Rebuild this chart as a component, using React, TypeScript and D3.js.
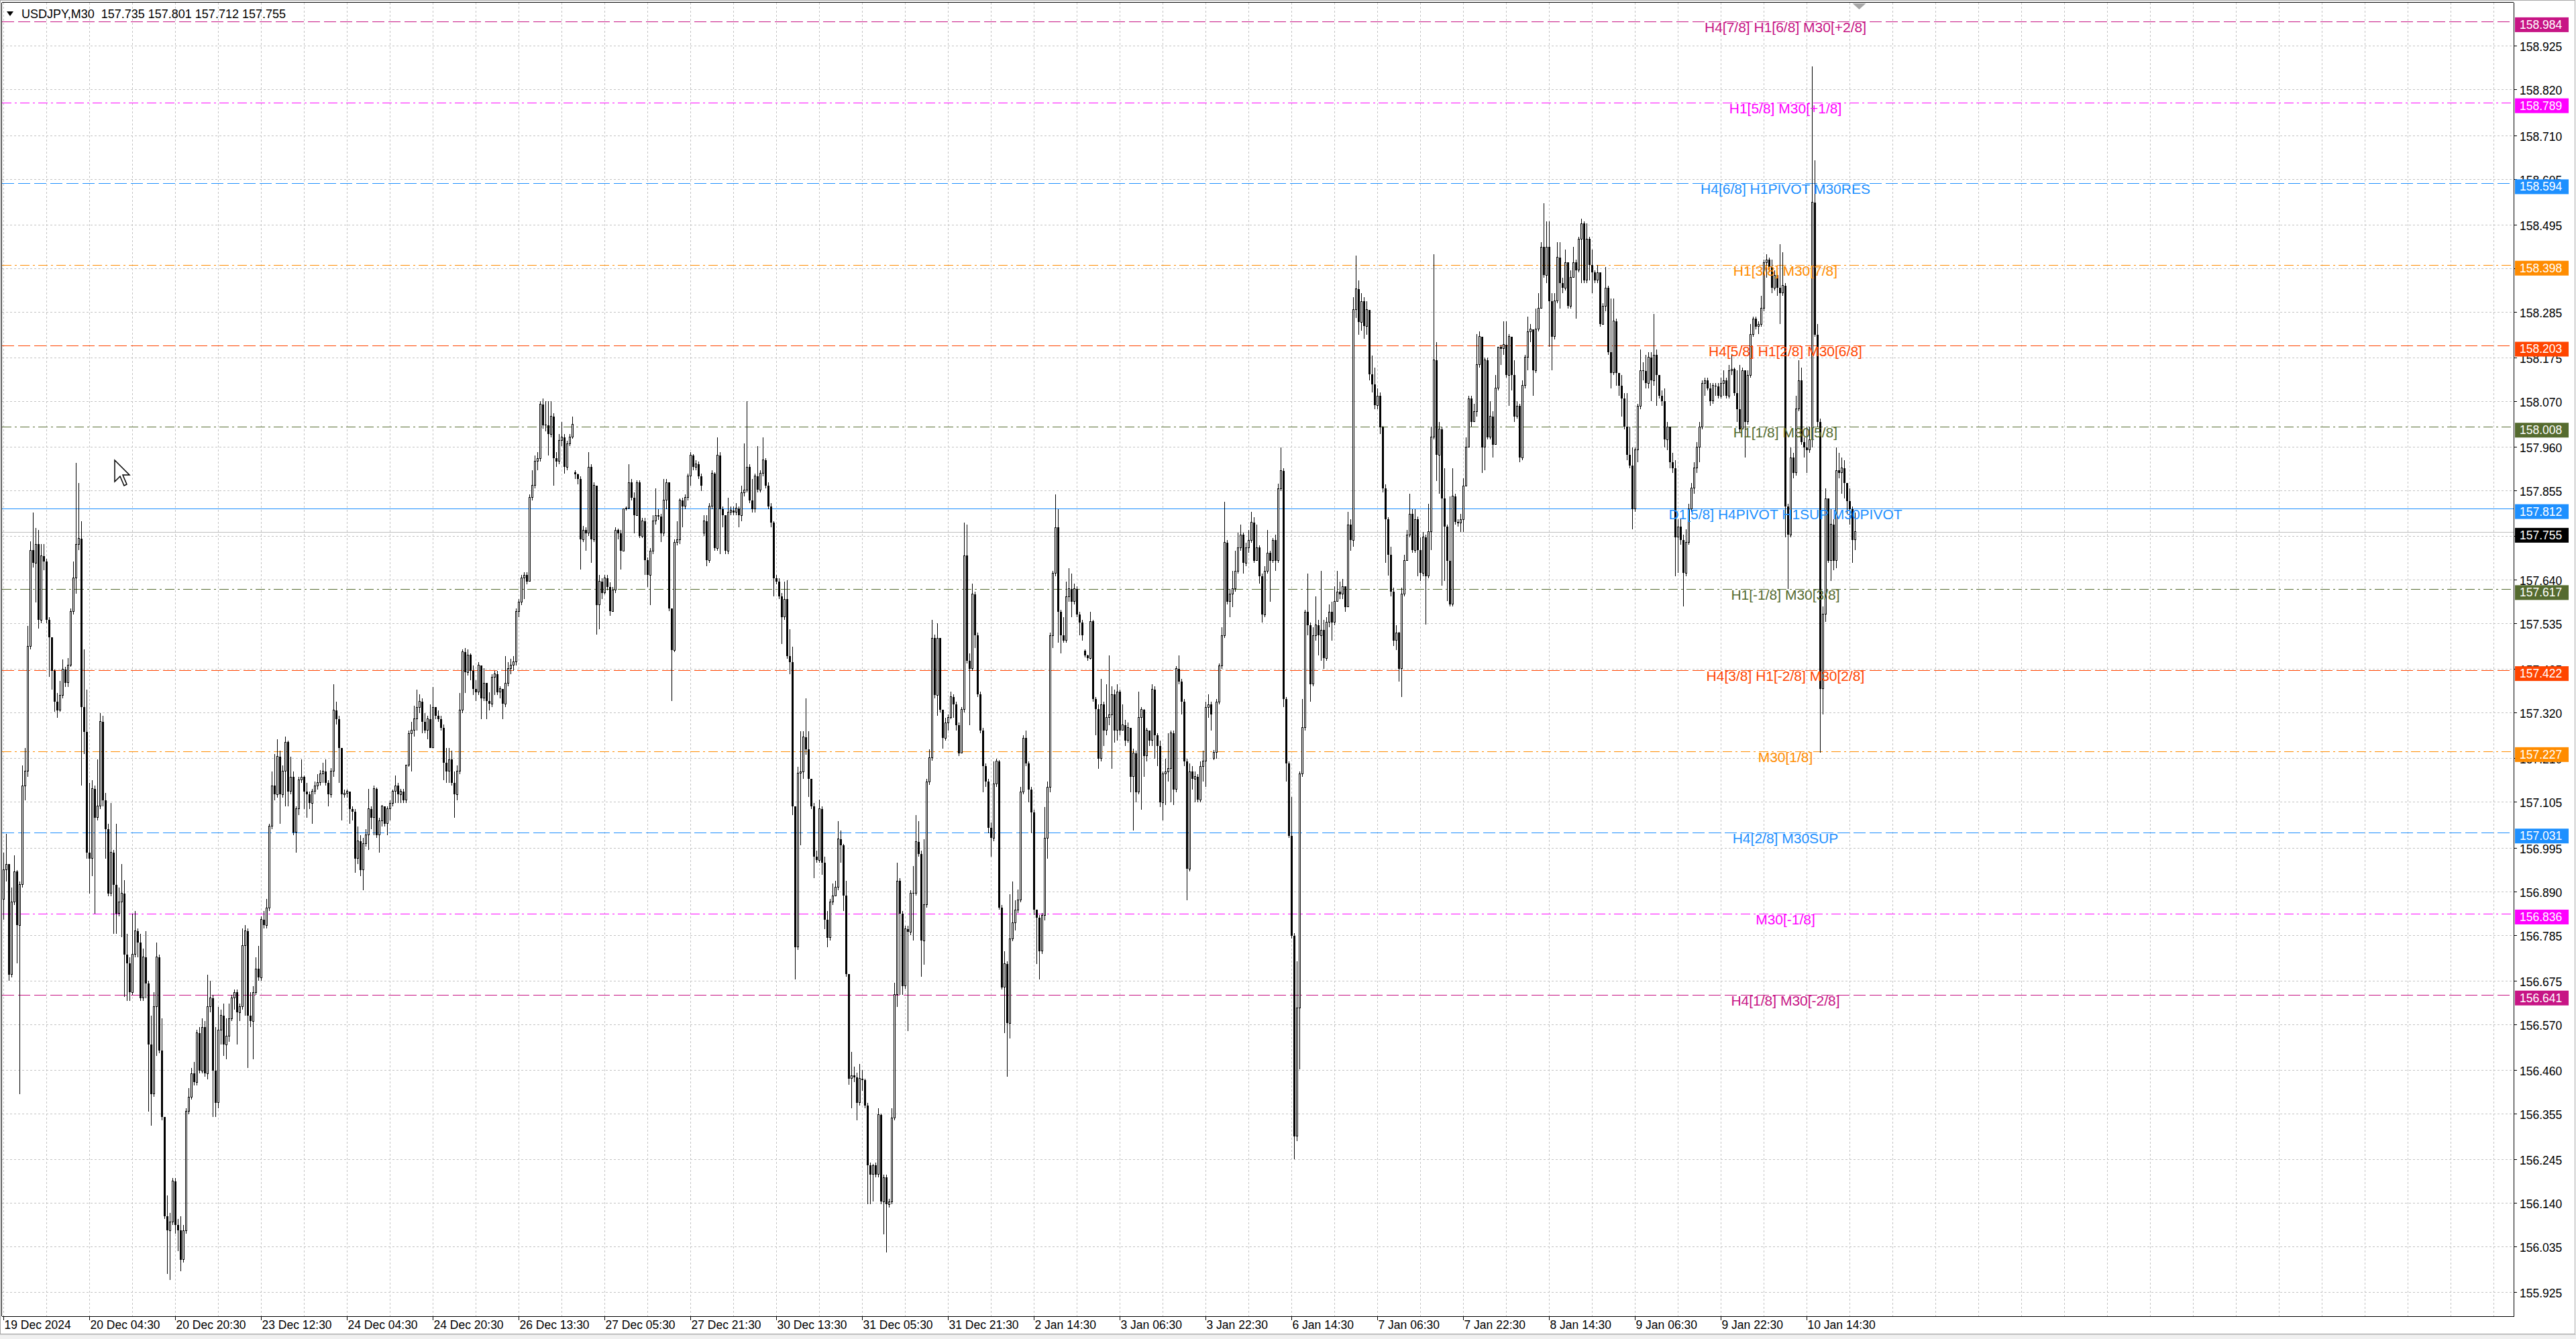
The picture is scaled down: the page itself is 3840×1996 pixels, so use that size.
import { useMemo } from "react";
import * as d3 from "d3";

// USDJPY M30 bars, prices kept in 0.001 steps above 155.000
const PRICE_BASE = 155;

const closes = [
  1941, 1955, 1689, 1864, 1937, 1808, 1906, 2144, 2179, 2480,
  2711, 2680, 2725, 2543, 2697, 2683, 2543, 2501, 2420, 2347,
  2326, 2361, 2424, 2392, 2435, 2564, 2645, 2725, 2739, 2333,
  2274, 1983, 1969, 2137, 2067, 2095, 2298, 2109, 2039, 1885,
  1983, 1906, 1836, 1864, 1885, 1738, 1717, 1647, 1738, 1794,
  1766, 1633, 1731, 1668, 1521, 1402, 1612, 1731, 1507, 1346,
  1108, 1073, 1094, 1192, 1087, 1073, 1003, 1073, 1360, 1395,
  1451, 1430, 1549, 1458, 1563, 1451, 1612, 1633, 1458, 1381,
  1556, 1591, 1521, 1542, 1584, 1633, 1647, 1598, 1612, 1759,
  1794, 1591, 1577, 1647, 1703, 1682, 1822, 1808, 1850, 2046,
  2144, 2123, 2214, 2123, 2179, 2249, 2130, 2165, 2032, 2088,
  2158, 2165, 2130, 2123, 2102, 2130, 2144, 2151, 2172, 2179,
  2151, 2123, 2179, 2326, 2305, 2235, 2123, 2126, 2130, 2088,
  2081, 1969, 2011, 1941, 2004, 2025, 2088, 2067, 2137, 2025,
  2060, 2095, 2053, 2088, 2102, 2130, 2144, 2123, 2130, 2109,
  2193, 2270, 2277, 2305, 2333, 2347, 2298, 2277, 2305, 2235,
  2333, 2312, 2305, 2284, 2200, 2179, 2207, 2151, 2123, 2179,
  2326, 2466, 2417, 2459, 2420, 2377, 2369, 2434, 2355, 2391,
  2348, 2341, 2405, 2413, 2369, 2377, 2341, 2391, 2427, 2434,
  2442, 2564, 2586, 2644, 2651, 2636, 2838, 2867, 2925, 2932,
  3062, 3012, 3012, 2990, 3033, 2932, 2925, 2975, 2983, 2911,
  2968, 2983, 3014, 2893, 2882, 2737, 2759, 2752, 2911, 2737,
  2867, 2579, 2636, 2608, 2644, 2622, 2564, 2615, 2759, 2752,
  2709, 2810, 2812, 2874, 2838, 2795, 2874, 2745, 2781, 2687,
  2651, 2709, 2781, 2795, 2792, 2752, 2831, 2874, 2571, 2470,
  2730, 2737, 2831, 2817, 2838, 2889, 2939, 2911, 2918, 2889,
  2867, 2781, 2687, 2817, 2896, 2716, 2939, 2810, 2795, 2709,
  2802, 2807, 2802, 2812, 2795, 2850, 2856, 2911, 2831, 2810,
  2889, 2856, 2896, 2928, 2867, 2817, 2778, 2644, 2636, 2600,
  2550, 2593, 2456, 2442, 2095, 1756, 2175, 2178, 2261, 2232,
  2160, 2095, 1973, 1965, 2088, 1958, 1821, 1778, 1864, 1879,
  1900, 2016, 2001, 1879, 1691, 1439, 1446, 1442, 1381, 1439,
  1436, 1374, 1230, 1208, 1230, 1208, 1352, 1143, 1201, 1136,
  1143, 1345, 1641, 1915, 1836, 1662, 1799, 1792, 1886, 1886,
  2009, 1980, 1771, 1857, 2153, 2211, 2499, 2362, 2499, 2327,
  2259, 2296, 2308, 2358, 2339, 2290, 2222, 2327, 2698, 2444,
  2426, 2605, 2506, 2364, 2277, 2191, 2154, 2042, 2018, 2148,
  2203, 1851, 1659, 1715, 1572, 1776, 1814, 1845, 1869, 2129,
  2259, 2197, 2135, 2080, 1845, 1826, 1746, 1832, 2018, 2141,
  2506, 2655, 2766, 2562, 2506, 2494, 2599, 2618, 2587, 2618,
  2556, 2537, 2506, 2457, 2451, 2540, 2352, 2329, 2209, 2339,
  2277, 2308, 2315, 2364, 2277, 2370, 2277, 2290, 2253, 2284,
  2166, 2222, 2129, 2308, 2327, 2216, 2277, 2253, 2376, 2265,
  2240, 2104, 2172, 2178, 2185, 2271, 2135, 2426, 2395, 2346,
  2203, 1944, 2178, 2160, 2166, 2110, 2191, 2203, 2333, 2339,
  2315, 2224, 2346, 2432, 2506, 2729, 2587, 2605, 2618, 2661,
  2717, 2748, 2680, 2717, 2735, 2778, 2686, 2717, 2649, 2556,
  2661, 2704, 2686, 2735, 2686, 2859, 2902, 2352, 2197, 2024,
  1783, 1300, 1609, 2172, 2284, 2562, 2531, 2389, 2506, 2531,
  2506, 2519, 2451, 2537, 2562, 2537, 2587, 2611, 2605, 2624,
  2574, 2772, 2735, 3290, 3340, 3260, 3310, 3250, 3290, 3135,
  3110, 3060, 3082, 3007, 2859, 2785, 2700, 2611, 2494, 2512,
  2426, 2605, 2686, 2748, 2798, 2711, 2785, 2711, 2656, 2742,
  2649, 2755, 2983, 3169, 2940, 3002, 2835, 2767, 2686, 2581,
  2841, 2779, 2776, 2785, 2866, 2959, 3076, 3020, 3045, 3157,
  3225, 2959, 3169, 2983, 3033, 2965, 3101, 3200, 3196, 3206,
  3132, 3225, 3132, 3033, 3058, 2934, 3107, 3175, 3237, 3243,
  3144, 3243, 3293, 3441, 3373, 3441, 3311, 3225, 3311, 3416,
  3354, 3342, 3404, 3299, 3367, 3404, 3385, 3460, 3497, 3361,
  3460, 3398, 3379, 3361, 3379, 3255, 3299, 3342, 3187, 3138,
  3262, 3138, 3107, 3076, 3008, 2940, 2915, 2810, 2952, 3058,
  3144, 3142, 3113, 3175, 3119, 3181, 3132, 3082, 3070, 2977,
  3008, 2922, 2909, 2742, 2767, 2736, 2656, 2730, 2810, 2860,
  2909, 2959, 3008, 3113, 3119, 3101, 3070, 3107, 3105, 3082,
  3113, 3119, 3082, 3144, 3147, 3089, 3051, 3002, 3144, 3020,
  3132, 3231, 3268, 3249, 3255, 3293, 3404, 3410, 3392, 3342,
  3373, 3342, 3330, 3348, 2816, 2748, 2934, 2897, 3051, 3119,
  2971, 2959, 2952, 2977, 3548, 3230, 3020, 2377, 2557, 2835,
  2686, 2773, 2686, 2903, 2897, 2909, 2872, 2829, 2810, 2736,
  2755,
];

const highs = [
  1983, 2028, 1955, 1899, 1976, 1941, 1913, 2193, 2235, 2529,
  2732, 2802, 2764, 2760, 2725, 2725, 2690, 2550, 2501, 2424,
  2368, 2396, 2448, 2431, 2452, 2571, 2683, 2921, 2872, 2781,
  2473, 2375, 2151, 2158, 2144, 2207, 2319, 2312, 2127, 2053,
  2102, 1990, 2053, 1899, 1955, 1916, 1787, 1731, 1836, 1843,
  1801, 1787, 1752, 1794, 1675, 1591, 1647, 1766, 1738, 1584,
  1339, 1157, 1115, 1199, 1199, 1101, 1108, 1087, 1367, 1416,
  1465, 1479, 1556, 1563, 1584, 1577, 1689, 1675, 1640, 1563,
  1612, 1605, 1619, 1584, 1619, 1640, 1654, 1654, 1619, 1801,
  1808, 1801, 1647, 1661, 1731, 1759, 1829, 1843, 1871, 2053,
  2179, 2221, 2256, 2228, 2193, 2263, 2252, 2214, 2179, 2095,
  2165, 2207, 2168, 2151, 2130, 2137, 2154, 2172, 2182, 2200,
  2207, 2158, 2186, 2389, 2347, 2312, 2235, 2134, 2134, 2130,
  2095, 2088, 2046, 2025, 2018, 2039, 2137, 2095, 2144, 2140,
  2067, 2098, 2095, 2095, 2109, 2134, 2168, 2151, 2137, 2137,
  2193, 2277, 2298, 2336, 2375, 2364, 2354, 2319, 2312, 2340,
  2382, 2333, 2326, 2312, 2291, 2235, 2235, 2228, 2179, 2193,
  2368, 2473, 2476, 2473, 2463, 2434, 2398, 2442, 2427, 2427,
  2391, 2369, 2413, 2420, 2420, 2384, 2377, 2456, 2442, 2449,
  2456, 2571, 2593, 2651, 2658, 2658, 2846, 2903, 2939, 2947,
  3069, 3076, 3069, 3069, 3069, 3040, 2947, 2990, 3019, 2990,
  2975, 2990, 3033, 2903, 2896, 2889, 2769, 2766, 2947, 2918,
  2874, 2867, 2651, 2644, 2651, 2651, 2633, 2622, 2766, 2763,
  2759, 2812, 2817, 2918, 2882, 2850, 2879, 2879, 2788, 2788,
  2694, 2716, 2795, 2860, 2810, 2798, 2882, 2882, 2874, 2571,
  2737, 2781, 2835, 2838, 2846, 2896, 2947, 2942, 2928, 2925,
  2896, 2795, 2795, 2824, 2903, 2899, 2983, 2947, 2817, 2795,
  2838, 2817, 2817, 2824, 2817, 2867, 2968, 3069, 2918, 2882,
  2896, 2961, 2903, 2983, 2932, 2874, 2824, 2781, 2651, 2644,
  2608, 2636, 2639, 2521, 2478, 2088, 2189, 2276, 2276, 2355,
  2276, 2160, 2102, 1987, 2110, 2095, 1973, 1843, 1872, 1908,
  1915, 2059, 2037, 2004, 1915, 1691, 1504, 1468, 1453, 1475,
  1460, 1439, 1381, 1237, 1234, 1237, 1367, 1355, 1208, 1208,
  1150, 1367, 1670, 1958, 1922, 1843, 1807, 1807, 1893, 1951,
  2074, 2059, 1987, 2016, 2160, 2232, 2543, 2507, 2535, 2364,
  2327, 2308, 2315, 2370, 2364, 2346, 2296, 2333, 2778, 2772,
  2463, 2630, 2611, 2513, 2370, 2284, 2197, 2160, 2055, 2203,
  2209, 2206, 1857, 1746, 1721, 1882, 1913, 1869, 1894, 2141,
  2265, 2277, 2203, 2141, 2086, 1845, 1832, 1838, 2092, 2154,
  2513, 2661, 2846, 2809, 2568, 2550, 2636, 2667, 2655, 2630,
  2624, 2562, 2543, 2473, 2459, 2562, 2543, 2358, 2339, 2401,
  2346, 2389, 2457, 2383, 2376, 2389, 2376, 2339, 2302, 2296,
  2259, 2234, 2228, 2370, 2333, 2329, 2284, 2277, 2389, 2383,
  2271, 2253, 2178, 2209, 2271, 2277, 2277, 2432, 2457, 2401,
  2352, 2209, 2197, 2191, 2178, 2172, 2203, 2228, 2346, 2364,
  2346, 2230, 2352, 2438, 2525, 2828, 2735, 2618, 2661, 2710,
  2754, 2772, 2754, 2729, 2760, 2803, 2791, 2772, 2723, 2655,
  2673, 2760, 2710, 2741, 2748, 2871, 2958, 2908, 2358, 2203,
  2117, 1789, 1721, 2178, 2352, 2568, 2655, 2537, 2525, 2599,
  2543, 2661, 2543, 2550, 2581, 2587, 2624, 2661, 2636, 2642,
  2611, 2803, 2785, 3320, 3420, 3360, 3330, 3320, 3310, 3290,
  3180, 3150, 3100, 3090, 3010, 2870, 2790, 2720, 2620, 2530,
  2515, 2620, 2700, 2760, 2847, 2810, 2810, 2792, 2742, 2755,
  2748, 2823, 3008, 3423, 3212, 3020, 3008, 2909, 2773, 2841,
  2909, 2847, 2785, 2798, 2884, 2983, 3082, 3082, 3064, 3231,
  3237, 3225, 3175, 3175, 3070, 3045, 3132, 3200, 3206, 3262,
  3262, 3231, 3175, 3169, 3070, 3064, 3119, 3181, 3274, 3255,
  3231, 3293, 3330, 3453, 3546, 3503, 3503, 3330, 3330, 3453,
  3453, 3367, 3435, 3404, 3385, 3441, 3410, 3466, 3509, 3503,
  3497, 3466, 3435, 3385, 3398, 3379, 3305, 3392, 3348, 3317,
  3317, 3268, 3138, 3132, 3089, 3089, 3008, 2959, 2959, 3064,
  3194, 3163, 3181, 3187, 3187, 3280, 3194, 3132, 3095, 3101,
  3020, 3008, 2946, 2928, 2785, 2785, 2748, 2761, 2823, 2872,
  2922, 2971, 3020, 3119, 3126, 3126, 3113, 3113, 3113, 3113,
  3126, 3144, 3126, 3157, 3181, 3150, 3144, 3157, 3150, 3144,
  3144, 3255, 3274, 3274, 3262, 3324, 3410, 3423, 3416, 3410,
  3385, 3379, 3447, 3429, 3354, 2823, 2959, 2946, 3082, 3169,
  3150, 2983, 3008, 3008, 3875, 3650, 3255, 3027, 2575, 2860,
  2835, 2810, 2785, 2959, 2946, 2934, 2928, 2872, 2860, 2816,
  2801,
];

const lows = [
  1822, 1913, 1675, 1682, 1857, 1717, 1402, 1899, 2109, 2165,
  2473, 2669, 2585, 2522, 2536, 2662, 2536, 2406, 2375, 2322,
  2308, 2322, 2354, 2382, 2382, 2431, 2557, 2606, 2711, 2144,
  2221, 1969, 1885, 1927, 1836, 2060, 2088, 2095, 1969, 1878,
  1878, 1787, 1787, 1829, 1780, 1636, 1626, 1626, 1640, 1731,
  1731, 1626, 1626, 1633, 1360, 1325, 1395, 1493, 1500, 1339,
  1101, 968, 954, 1087, 1066, 1024, 975, 996, 1066, 1353,
  1388, 1423, 1423, 1451, 1451, 1444, 1437, 1598, 1346, 1346,
  1367, 1521, 1493, 1486, 1528, 1577, 1605, 1521, 1577, 1605,
  1591, 1465, 1563, 1486, 1640, 1675, 1675, 1801, 1801, 1843,
  2039, 2109, 2116, 2053, 2116, 2095, 2095, 2123, 2025, 1983,
  2074, 2151, 2088, 2067, 2088, 2053, 2123, 2134, 2144, 2151,
  2144, 2095, 2116, 2165, 2291, 2151, 2060, 2116, 2116, 2053,
  2060, 1934, 1955, 1927, 1892, 1997, 1990, 2039, 2025, 2018,
  1983, 2046, 2046, 2025, 2060, 2095, 2102, 2102, 2102, 2102,
  2102, 2190, 2179, 2263, 2277, 2319, 2270, 2270, 2256, 2235,
  2235, 2305, 2298, 2277, 2158, 2151, 2151, 2144, 2067, 2109,
  2172, 2319, 2368, 2410, 2398, 2362, 2348, 2362, 2304, 2348,
  2304, 2326, 2333, 2362, 2362, 2355, 2304, 2333, 2384, 2413,
  2420, 2434, 2550, 2579, 2593, 2629, 2636, 2831, 2860, 2903,
  2925, 3004, 2997, 2939, 2983, 2867, 2911, 2918, 2961, 2896,
  2903, 2961, 2980, 2882, 2870, 2665, 2730, 2709, 2745, 2680,
  2730, 2507, 2521, 2593, 2605, 2615, 2553, 2564, 2608, 2737,
  2665, 2730, 2807, 2810, 2831, 2752, 2795, 2740, 2740, 2651,
  2622, 2579, 2701, 2773, 2784, 2730, 2745, 2810, 2564, 2348,
  2466, 2723, 2726, 2766, 2810, 2831, 2867, 2903, 2903, 2882,
  2853, 2745, 2672, 2680, 2810, 2709, 2709, 2701, 2766, 2701,
  2701, 2795, 2795, 2795, 2766, 2781, 2841, 2850, 2824, 2802,
  2802, 2850, 2850, 2889, 2860, 2810, 2766, 2600, 2629, 2593,
  2485, 2543, 2449, 2413, 2074, 1677, 1749, 2001, 2160, 2218,
  2117, 2088, 1922, 1958, 1958, 1929, 1799, 1756, 1771, 1857,
  1886, 1893, 1958, 1843, 1684, 1424, 1367, 1431, 1338, 1374,
  1410, 1367, 1136, 1136, 1143, 1201, 1201, 1136, 1064, 1020,
  1128, 1136, 1338, 1612, 1641, 1641, 1655, 1554, 1785, 1771,
  1879, 1973, 1684, 1713, 1850, 2146, 2204, 2355, 2312, 2321,
  2234, 2253, 2277, 2305, 2308, 2277, 2216, 2247, 2321, 2438,
  2290, 2420, 2475, 2358, 2271, 2129, 2141, 2030, 1974, 2011,
  2141, 1845, 1653, 1548, 1443, 1535, 1770, 1795, 1838, 1863,
  2123, 2191, 2104, 2030, 1832, 1715, 1677, 1739, 1820, 1968,
  2129, 2475, 2649, 2488, 2463, 2488, 2488, 2587, 2550, 2581,
  2550, 2506, 2494, 2453, 2444, 2448, 2346, 2265, 2185, 2203,
  2240, 2265, 2290, 2185, 2247, 2253, 2265, 2277, 2240, 2247,
  2129, 2036, 2104, 2123, 2086, 2166, 2203, 2240, 2240, 2209,
  2191, 2092, 2061, 2098, 2154, 2104, 2098, 2129, 2389, 2315,
  2191, 1869, 1937, 2135, 2104, 2104, 2104, 2154, 2141, 2308,
  2277, 2206, 2209, 2339, 2426, 2500, 2581, 2550, 2574, 2611,
  2655, 2710, 2655, 2673, 2704, 2729, 2680, 2686, 2630, 2537,
  2550, 2655, 2587, 2680, 2661, 2680, 2853, 2333, 2154, 2018,
  1776, 1245, 1288, 1461, 2166, 2277, 2506, 2346, 2383, 2494,
  2457, 2444, 2426, 2444, 2525, 2494, 2531, 2587, 2593, 2593,
  2562, 2599, 2710, 2720, 3270, 3230, 3240, 3220, 3230, 3120,
  3090, 3050, 3050, 2990, 2850, 2680, 2650, 2600, 2480, 2470,
  2395, 2358, 2600, 2690, 2742, 2705, 2705, 2649, 2637, 2649,
  2532, 2643, 2711, 2977, 2878, 2847, 2625, 2637, 2588, 2575,
  2575, 2773, 2767, 2755, 2755, 2866, 2959, 3008, 3020, 3033,
  3150, 2897, 2903, 2977, 2977, 2934, 3020, 3095, 3157, 3181,
  3126, 3058, 3095, 3020, 3027, 2922, 2928, 3101, 3144, 3212,
  3082, 3138, 3237, 3293, 3367, 3354, 3200, 3144, 3218, 3305,
  3293, 3330, 3336, 3293, 3293, 3367, 3268, 3379, 3354, 3354,
  3354, 3361, 3330, 3354, 3354, 3249, 3255, 3286, 3181, 3101,
  3132, 3107, 3082, 3033, 3002, 2928, 2909, 2761, 2804, 2922,
  3051, 3119, 3101, 3101, 3070, 3107, 3058, 3076, 3058, 2959,
  2952, 2909, 2897, 2649, 2656, 2724, 2575, 2649, 2724, 2804,
  2847, 2897, 2922, 3002, 3082, 3095, 3058, 3064, 3082, 3076,
  3076, 3082, 3076, 3076, 3132, 3082, 3020, 2996, 3002, 2934,
  3014, 3126, 3225, 3243, 3231, 3249, 3286, 3367, 3379, 3330,
  3336, 3324, 3255, 3324, 2742, 2618, 2742, 2884, 2891, 3045,
  2965, 2934, 2897, 2946, 2959, 3225, 3008, 2223, 2315, 2538,
  2680, 2637, 2662, 2668, 2884, 2847, 2835, 2798, 2773, 2680,
  2712,
];

// bars that do not open at the previous close: first bar, day opens, weekend gap
const gapOpens: [number, number][] = [
  [0, 1871],
  [213, 2899],
  [261, 2752],
  [403, 2469],
  [451, 2209],
];

const headerText = "USDJPY,M30  157.735 157.801 157.712 157.755";
const lastPrice = 157.755;

const dateLabels = [
  "19 Dec 2024", "20 Dec 04:30", "20 Dec 20:30", "23 Dec 12:30", "24 Dec 04:30",
  "24 Dec 20:30", "26 Dec 13:30", "27 Dec 05:30", "27 Dec 21:30", "30 Dec 13:30",
  "31 Dec 05:30", "31 Dec 21:30", "2 Jan 14:30", "3 Jan 06:30", "3 Jan 22:30",
  "6 Jan 14:30", "7 Jan 06:30", "7 Jan 22:30", "8 Jan 14:30", "9 Jan 06:30",
  "9 Jan 22:30", "10 Jan 14:30",
];

const priceTicks = [
  158.925, 158.82, 158.71, 158.605, 158.495, 158.39, 158.285, 158.175, 158.07,
  157.96, 157.855, 157.745, 157.64, 157.535, 157.425, 157.32, 157.21, 157.105,
  156.995, 156.89, 156.785, 156.675, 156.57, 156.46, 156.355, 156.245, 156.14,
  156.035, 155.925,
];

// murrey math levels
const levelPrices = [
  158.984, 158.789, 158.594, 158.398, 158.203, 158.008, 157.812, 157.617,
  157.422, 157.227, 157.031, 156.836, 156.641,
];
const levelLabels = [
  "H4[7/8] H1[6/8] M30[+2/8]",
  "H1[5/8] M30[+1/8]",
  "H4[6/8] H1PIVOT M30RES",
  "H1[3/8] M30[7/8]",
  "H4[5/8] H1[2/8] M30[6/8]",
  "H1[1/8] M30[5/8]",
  "D1[5/8] H4PIVOT H1SUP M30PIVOT",
  "H1[-1/8] M30[3/8]",
  "H4[3/8] H1[-2/8] M30[2/8]",
  "M30[1/8]",
  "H4[2/8] M30SUP",
  "M30[-1/8]",
  "H4[1/8] M30[-2/8]",
];

// drawing styles, same order as the levels
const DASH = "18,6";
const DASH_DOT = "14,5,3,5";
const levelStyles = [
  { color: "#C71585", dash: DASH },
  { color: "#FF00FF", dash: DASH_DOT },
  { color: "#1E90FF", dash: DASH },
  { color: "#FF8C00", dash: DASH_DOT },
  { color: "#FF4500", dash: DASH },
  { color: "#556B2F", dash: DASH_DOT },
  { color: "#1E90FF", dash: "none" },
  { color: "#556B2F", dash: DASH_DOT },
  { color: "#FF4500", dash: DASH },
  { color: "#FF8C00", dash: DASH_DOT },
  { color: "#1E90FF", dash: DASH },
  { color: "#FF00FF", dash: DASH_DOT },
  { color: "#C71585", dash: DASH },
];

const WIDTH = 3840;
const HEIGHT = 1996;
const PLOT = { left: 3, top: 4, right: 3747, bottom: 1962 };
const BAR_STEP = 4;
const FIRST_BAR_X = 5.5;
const PRICE_TOP = 159.029;
const PRICE_BOTTOM = 155.867;
const LABEL_BAR = 664;
const AXIS_FONT = "'Liberation Sans', Arial, sans-serif";

const fmt = d3.format(".3f");

export default function App() {
  const bars = useMemo(() => {
    const gaps = new Map(gapOpens);
    const n = Math.min(closes.length, highs.length, lows.length);
    return d3.range(n).map((i) => {
      const c = PRICE_BASE + closes[i] / 1000;
      const oRaw = gaps.has(i) ? gaps.get(i)! : closes[i - 1];
      const o = PRICE_BASE + oRaw / 1000;
      const h = Math.max(PRICE_BASE + highs[i] / 1000, o, c);
      const l = Math.min(PRICE_BASE + lows[i] / 1000, o, c);
      return { i, o, h, l, c };
    });
  }, []);

  const x = useMemo(
    () => d3.scaleLinear().domain([0, 1]).range([FIRST_BAR_X, FIRST_BAR_X + BAR_STEP]),
    [],
  );
  const y = useMemo(
    () => d3.scaleLinear().domain([PRICE_BOTTOM, PRICE_TOP]).range([PLOT.bottom, PLOT.top]),
    [],
  );

  // vertical grid every 16 bars, labels every 32
  const gridBars = d3
    .range(0, Math.floor(x.invert(PLOT.right) / 16) + 1)
    .map((k) => k * 16);

  return (
    <svg
      width={WIDTH}
      height={HEIGHT}
      viewBox={`0 0 ${WIDTH} ${HEIGHT}`}
      style={{ position: "absolute", left: 0, top: 0, display: "block" }}
    >
      <rect x={0} y={0} width={WIDTH} height={HEIGHT} fill="#ffffff" />
      <rect x={0} y={1989} width={WIDTH} height={HEIGHT - 1989} fill="#f0f0f0" />
      <line x1={0} y1={1989.5} x2={WIDTH} y2={1989.5} stroke="#d4d4d4" />
      <line x1={3838.5} y1={0} x2={3838.5} y2={1989} stroke="#d8d8d8" />

      {/* grid */}
      <g stroke="#c3c3c3" strokeWidth={1} strokeDasharray="3,3" shapeRendering="crispEdges">
        {gridBars.map((b) => (
          <line key={`gx${b}`} x1={x(b)} y1={PLOT.top} x2={x(b)} y2={PLOT.bottom} />
        ))}
        {priceTicks.map((t) => (
          <line
            key={`gy${t}`}
            x1={PLOT.left}
            y1={Math.round(y(t)) + 0.5}
            x2={PLOT.right}
            y2={Math.round(y(t)) + 0.5}
          />
        ))}
      </g>

      {/* level lines */}
      <g shapeRendering="crispEdges">
        {levelPrices.map((p, i) => (
          <line
            key={`lv${p}`}
            x1={PLOT.left}
            y1={Math.round(y(p)) + 0.5}
            x2={PLOT.right}
            y2={Math.round(y(p)) + 0.5}
            stroke={levelStyles[i].color}
            strokeWidth={1}
            strokeDasharray={levelStyles[i].dash}
          />
        ))}
        <line
          x1={PLOT.left}
          y1={Math.round(y(lastPrice)) + 0.5}
          x2={PLOT.right}
          y2={Math.round(y(lastPrice)) + 0.5}
          stroke="#c0c0c0"
        />
      </g>

      {/* candles */}
      <g shapeRendering="crispEdges">
        {bars.map((b) => {
          const cx = x(b.i);
          const top = y(Math.max(b.o, b.c));
          const bot = y(Math.min(b.o, b.c));
          const bull = b.c > b.o;
          return (
            <g key={b.i}>
              <line x1={cx} y1={y(b.h)} x2={cx} y2={y(b.l)} stroke="#000" strokeWidth={1} />
              {bot - top < 1 ? (
                <line x1={cx - 1.5} y1={top} x2={cx + 1.5} y2={top} stroke="#000" />
              ) : bull ? (
                <rect
                  x={cx - 1}
                  y={top}
                  width={2}
                  height={bot - top}
                  fill="#fff"
                  stroke="#000"
                  strokeWidth={1}
                />
              ) : (
                <rect x={cx - 1.5} y={top} width={3} height={bot - top} fill="#000" />
              )}
            </g>
          );
        })}
      </g>

      {/* level labels */}
      <g fontFamily={AXIS_FONT} fontSize={21} textAnchor="middle">
        {levelPrices.map((p, i) => (
          <text key={`lt${p}`} x={x(LABEL_BAR)} y={y(p) + 16} fill={levelStyles[i].color}>
            {levelLabels[i]}
          </text>
        ))}
      </g>

      {/* chart frame */}
      <g shapeRendering="crispEdges" fill="none">
        <rect x={0.5} y={0.5} width={WIDTH - 2} height={1988} stroke="#a8a8a8" />
        <line x1={2.5} y1={3.5} x2={PLOT.right} y2={3.5} stroke="#000" />
        <line x1={2.5} y1={3.5} x2={2.5} y2={PLOT.bottom} stroke="#000" />
        <line x1={PLOT.right + 0.5} y1={3.5} x2={PLOT.right + 0.5} y2={PLOT.bottom + 0.5} stroke="#000" />
        <line x1={2.5} y1={PLOT.bottom + 0.5} x2={PLOT.right + 0.5} y2={PLOT.bottom + 0.5} stroke="#000" />
      </g>

      {/* chart shift marker */}
      <polygon
        points={`${x(690) - 4},${PLOT.top + 1} ${x(690) + 16},${PLOT.top + 1} ${x(690) + 6},${PLOT.top + 10}`}
        fill="#a6a6a6"
      />

      {/* header */}
      <polygon points="10,17 20,17 15,24" fill="#000" />
      <text x={32} y={27} fontFamily={AXIS_FONT} fontSize={18} fill="#000" style={{ whiteSpace: "pre" }}>
        {headerText}
      </text>

      {/* price axis */}
      <g fontFamily={AXIS_FONT} fontSize={17.5} fill="#000">
        {priceTicks.map((t) => (
          <g key={`pt${t}`}>
            <line
              x1={PLOT.right}
              y1={Math.round(y(t)) + 0.5}
              x2={PLOT.right + 5}
              y2={Math.round(y(t)) + 0.5}
              stroke="#000"
              shapeRendering="crispEdges"
            />
            <text x={PLOT.right + 9} y={y(t) + 2} dominantBaseline="central">
              {fmt(t)}
            </text>
          </g>
        ))}
      </g>

      {/* time axis */}
      <g fontFamily={AXIS_FONT} fontSize={17.5} fill="#000">
        {dateLabels.map((d, k) => (
          <g key={d}>
            <line
              x1={x(k * 32)}
              y1={PLOT.bottom}
              x2={x(k * 32)}
              y2={PLOT.bottom + 6}
              stroke="#000"
              shapeRendering="crispEdges"
            />
            <text x={x(k * 32) + 1} y={1981}>
              {d}
            </text>
          </g>
        ))}
      </g>

      {/* price tags */}
      <g fontFamily={AXIS_FONT} fontSize={17.5}>
        {levelPrices.map((p, i) => (
          <g key={`tag${p}`}>
            <rect x={PLOT.right + 2} y={y(p) - 6} width={80} height={22} fill={levelStyles[i].color} />
            <text x={PLOT.right + 9} y={y(p) + 5} dominantBaseline="central" fill="#fff">
              {fmt(p)}
            </text>
          </g>
        ))}
        <rect x={PLOT.right + 2} y={y(lastPrice) - 6} width={80} height={22} fill="#000" />
        <text x={PLOT.right + 9} y={y(lastPrice) + 5} dominantBaseline="central" fill="#fff">
          {fmt(lastPrice)}
        </text>
      </g>

      {/* mouse pointer */}
      <polygon
        points="171,686 171,718 179,710 185,724 189,722 183,708 193,708"
        fill="#fff"
        stroke="#000"
        strokeWidth={1.5}
      />
    </svg>
  );
}
